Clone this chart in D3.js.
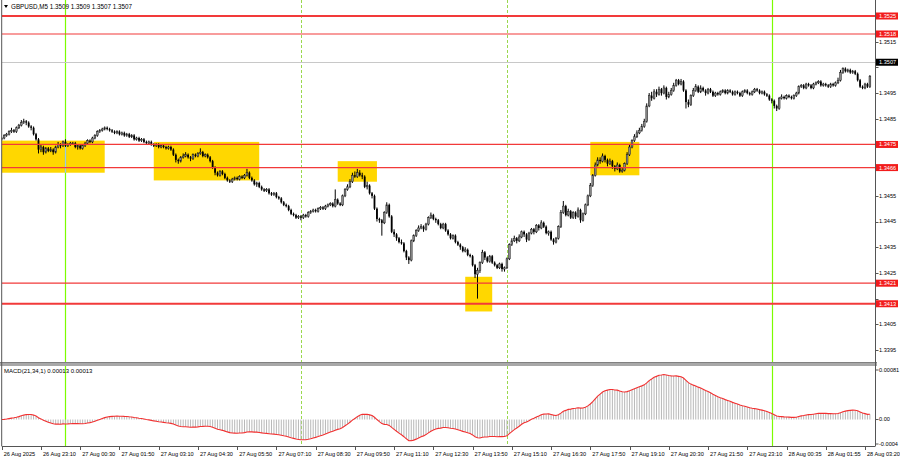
<!DOCTYPE html>
<html><head><meta charset="utf-8">
<script src="https://cdn.jsdelivr.net/npm/d3@7"></script>
<style>html,body{margin:0;padding:0;background:#fff;}svg{display:block;font-family:"Liberation Sans","DejaVu Sans",sans-serif;}</style>
</head><body><svg id="c" width="900" height="460"></svg>
<script>
// ---------- DATA (GBPUSD M5) ----------
const firstOpen = 1.3477;
const closes = [
1.34775,1.34785,1.3479,1.348,1.34805,1.348,1.34815,1.34825,1.34835,1.3484,
1.34835,1.3482,1.34815,1.3479,1.3477,1.3473,1.3474,1.3472,1.34735,1.34725,
1.3473,1.3472,1.3474,1.3475,1.34745,1.3476,1.34745,1.3475,1.34755,1.34755,
1.3474,1.34745,1.34735,1.34745,1.34755,1.34765,1.3476,1.34775,1.34785,1.348,
1.34805,1.3481,1.34815,1.3481,1.34805,1.348,1.34795,1.348,1.3479,1.34795,
1.34785,1.3479,1.3478,1.34785,1.3477,1.34775,1.34765,1.3477,1.3476,1.34755,
1.3476,1.3475,1.34745,1.3475,1.3474,1.34745,1.3474,1.34735,1.3474,1.3473,
1.3471,1.3469,1.34685,1.347,1.34705,1.3471,1.347,1.34695,1.3471,1.34705,
1.34715,1.3472,1.34705,1.3471,1.347,1.34685,1.3466,1.3464,1.3463,1.34645,
1.34635,1.3462,1.3461,1.34605,1.34615,1.3462,1.34615,1.34625,1.3462,1.3463,
1.3464,1.3462,1.3461,1.34595,1.346,1.34585,1.34575,1.3457,1.34575,1.3456,
1.34555,1.3456,1.34545,1.3454,1.34525,1.34515,1.3451,1.34495,1.3448,1.34475,
1.34465,1.3447,1.34465,1.34475,1.3447,1.34485,1.3449,1.34495,1.3449,1.345,
1.34505,1.345,1.3451,1.34515,1.3452,1.3451,1.34535,1.3452,1.34515,1.3455,
1.34575,1.34585,1.34605,1.3463,1.34625,1.3464,1.3463,1.34625,1.34585,1.3459,
1.3456,1.3455,1.345,1.3446,1.34455,1.34445,1.34485,1.34515,1.3447,1.3441,
1.344,1.34385,1.3437,1.34365,1.34335,1.3431,1.343,1.34375,1.34395,1.34415,
1.34425,1.3443,1.3442,1.3444,1.34465,1.34475,1.3446,1.34455,1.3444,1.34425,
1.3444,1.34415,1.344,1.34385,1.34395,1.3437,1.3436,1.3435,1.34335,1.3434,
1.3432,1.34315,1.3428,1.34245,1.3426,1.3429,1.3433,1.3431,1.34295,1.34315,
1.3429,1.3428,1.3427,1.34285,1.34265,1.3427,1.34305,1.3436,1.34375,1.34385,
1.34375,1.3439,1.3441,1.344,1.3438,1.34405,1.3442,1.3441,1.34435,1.34425,
1.34445,1.3443,1.34405,1.3441,1.3438,1.3437,1.34385,1.3443,1.34485,1.3451,
1.34475,1.3449,1.34465,1.34485,1.3447,1.34495,1.34455,1.3448,1.34515,1.3455,
1.3459,1.3463,1.3467,1.3469,1.34685,1.34705,1.3469,1.34675,1.34685,1.34665,
1.34655,1.3467,1.34645,1.3465,1.34675,1.3471,1.3474,1.34765,1.3478,1.34795,
1.34805,1.3482,1.3484,1.349,1.3494,1.3493,1.34955,1.34945,1.34965,1.3495,
1.3497,1.34935,1.34945,1.3496,1.3498,1.35,1.34985,1.34995,1.3496,1.34915,
1.34905,1.3494,1.3496,1.34975,1.34955,1.3497,1.3496,1.3495,1.34965,1.34955,
1.3494,1.3495,1.34945,1.34955,1.3496,1.3495,1.3496,1.34955,1.34945,1.34955,
1.3495,1.3494,1.34955,1.3496,1.3495,1.34945,1.34955,1.34965,1.3496,1.3495,
1.34955,1.34945,1.3494,1.34925,1.3492,1.349,1.3489,1.3493,1.34935,1.3493,
1.3494,1.34935,1.3493,1.3494,1.3495,1.34975,1.3498,1.3497,1.34985,1.3498,
1.3497,1.34985,1.3499,1.34995,1.3498,1.34985,1.3498,1.34975,1.34985,1.3498,
1.3499,1.35,1.3503,1.35045,1.35035,1.3504,1.3503,1.35035,1.35025,1.35,
1.34975,1.3497,1.34985,1.34975,1.35015];
const highs = [
1.3478,1.3479,1.34795,1.34805,1.34815,1.3481,1.3482,1.3483,1.34845,1.3485,
1.34845,1.3484,1.34825,1.3482,1.34795,1.34775,1.3475,1.34745,1.3474,1.3474,
1.3474,1.34735,1.34745,1.3476,1.34755,1.34765,1.3477,1.34755,1.3476,1.3476,
1.3476,1.3475,1.3475,1.3475,1.3476,1.3477,1.3477,1.3478,1.3479,1.34805,
1.3481,1.34815,1.3482,1.3482,1.34815,1.3481,1.34805,1.34805,1.34805,1.348,
1.348,1.34795,1.34795,1.3479,1.3479,1.3478,1.3478,1.34775,1.34775,1.34765,
1.34765,1.34765,1.34755,1.34755,1.34755,1.3475,1.3475,1.34745,1.34745,1.34745,
1.34735,1.34715,1.34695,1.34705,1.34715,1.3472,1.34715,1.34705,1.34715,1.34715,
1.3472,1.34735,1.34725,1.34715,1.34715,1.34705,1.3469,1.34665,1.34645,1.3465,
1.3465,1.3464,1.34625,1.34615,1.3462,1.34625,1.34625,1.3463,1.3463,1.34635,
1.34655,1.34645,1.34625,1.34615,1.34605,1.34605,1.3459,1.3458,1.3458,1.3458,
1.34565,1.34565,1.34565,1.3455,1.34545,1.3453,1.3452,1.34515,1.345,1.34485,
1.3448,1.34475,1.34475,1.3448,1.3448,1.3449,1.34495,1.345,1.345,1.34505,
1.3451,1.3451,1.34515,1.3452,1.34525,1.34525,1.34575,1.3454,1.34525,1.34555,
1.3458,1.34595,1.34615,1.3464,1.34645,1.34655,1.3465,1.3464,1.3463,1.34605,
1.34595,1.34565,1.34555,1.34505,1.34465,1.3446,1.3449,1.34525,1.3452,1.34475,
1.3442,1.34405,1.3439,1.3438,1.3437,1.3434,1.34315,1.3438,1.344,1.3442,
1.34435,1.3444,1.34435,1.34445,1.3447,1.34485,1.3448,1.34465,1.3446,1.34445,
1.34445,1.34445,1.3442,1.34405,1.344,1.344,1.34375,1.34365,1.34355,1.3435,
1.34345,1.34325,1.3432,1.34285,1.3427,1.34295,1.3434,1.34335,1.34315,1.3432,
1.3432,1.34295,1.34285,1.3429,1.3429,1.34275,1.3431,1.34365,1.34385,1.34395,
1.3439,1.344,1.34415,1.34415,1.34405,1.3441,1.34425,1.34425,1.3444,1.3444,
1.34455,1.3445,1.34435,1.34415,1.34415,1.34385,1.3439,1.34435,1.34495,1.3453,
1.34515,1.345,1.34495,1.3449,1.3449,1.34505,1.345,1.34485,1.3452,1.34555,
1.346,1.34635,1.3468,1.347,1.347,1.34715,1.3471,1.34695,1.34695,1.3469,
1.3467,1.3468,1.34675,1.3466,1.3468,1.3472,1.3475,1.3477,1.3479,1.34805,
1.34815,1.3483,1.3485,1.3491,1.3495,1.34955,1.34965,1.34965,1.34975,1.3497,
1.3498,1.34975,1.34955,1.3497,1.3499,1.35005,1.35005,1.35005,1.35,1.34965,
1.34925,1.34945,1.3497,1.34985,1.3498,1.3498,1.34975,1.34965,1.3497,1.3497,
1.3496,1.34955,1.34955,1.3496,1.34965,1.34965,1.34965,1.34965,1.3496,1.3496,
1.3496,1.34955,1.3496,1.34965,1.34965,1.34955,1.3496,1.3497,1.3497,1.34965,
1.3496,1.3496,1.3495,1.34945,1.3493,1.34925,1.34905,1.34935,1.34945,1.3494,
1.34945,1.34945,1.3494,1.34945,1.34955,1.3498,1.34985,1.34985,1.3499,1.3499,
1.34985,1.3499,1.34995,1.35,1.35,1.3499,1.3499,1.34985,1.3499,1.3499,
1.34995,1.3501,1.3504,1.3505,1.3505,1.35045,1.35045,1.3504,1.3504,1.3503,
1.35005,1.3498,1.3499,1.3499,1.3502];
const lows = [
1.34765,1.3477,1.3478,1.34785,1.34795,1.34795,1.34795,1.3481,1.3482,1.3483,
1.34825,1.34815,1.34805,1.34785,1.34765,1.34715,1.3472,1.3471,1.34715,1.3472,
1.3472,1.3471,1.34715,1.34735,1.34735,1.3474,1.3474,1.3474,1.34745,1.3475,
1.34735,1.3473,1.3473,1.3473,1.3474,1.3475,1.34755,1.34755,1.3477,1.3478,
1.34795,1.348,1.34805,1.34805,1.348,1.34795,1.3479,1.3479,1.34785,1.34785,
1.3478,1.3478,1.34775,1.34775,1.34765,1.34765,1.3476,1.3476,1.34755,1.3475,
1.3475,1.34745,1.3474,1.3474,1.34735,1.34735,1.34735,1.3473,1.3473,1.34725,
1.34705,1.3468,1.34675,1.3468,1.34695,1.347,1.34695,1.34685,1.3469,1.347,
1.347,1.3471,1.347,1.347,1.34695,1.3468,1.34655,1.3463,1.34625,1.34625,
1.3463,1.34615,1.34605,1.346,1.346,1.3461,1.3461,1.3461,1.34615,1.34615,
1.34625,1.34615,1.34605,1.3459,1.34585,1.3458,1.3457,1.34565,1.34565,1.34555,
1.3455,1.3455,1.3454,1.34535,1.3452,1.3451,1.34505,1.3449,1.34475,1.3447,
1.3446,1.3446,1.34455,1.3446,1.34465,1.34465,1.3448,1.34485,1.34485,1.34485,
1.34495,1.34495,1.34495,1.34505,1.3451,1.34505,1.34505,1.34515,1.3451,1.3451,
1.34545,1.3457,1.3458,1.346,1.3462,1.3462,1.34625,1.34615,1.3458,1.34575,
1.34555,1.3454,1.34495,1.3445,1.34445,1.34395,1.3444,1.3448,1.34465,1.34405,
1.3439,1.34375,1.34365,1.3436,1.3433,1.343,1.34285,1.34295,1.3437,1.3439,
1.3441,1.3442,1.3441,1.34415,1.34435,1.3446,1.34455,1.34445,1.34435,1.3442,
1.3442,1.3441,1.34395,1.3438,1.3438,1.34365,1.34355,1.3434,1.3433,1.3433,
1.34315,1.3431,1.34275,1.3423,1.3415,1.3425,1.34285,1.343,1.3429,1.3429,
1.34285,1.34275,1.34265,1.34265,1.34255,1.34255,1.34265,1.343,1.34355,1.3437,
1.34365,1.3437,1.34385,1.3439,1.3437,1.34375,1.344,1.344,1.34405,1.34415,
1.3442,1.34425,1.344,1.34395,1.34375,1.3436,1.34365,1.3438,1.34425,1.3448,
1.3447,1.3447,1.3446,1.3446,1.3446,1.34465,1.34445,1.3445,1.34475,1.3451,
1.34545,1.34585,1.34625,1.34665,1.34675,1.3468,1.3468,1.34665,1.3467,1.34655,
1.34645,1.3465,1.3464,1.3464,1.34645,1.3467,1.34705,1.34735,1.3476,1.34775,
1.3479,1.348,1.34815,1.34835,1.34895,1.3492,1.34925,1.34935,1.3494,1.3494,
1.34945,1.34925,1.3493,1.3494,1.34955,1.34975,1.3498,1.3498,1.34955,1.3489,
1.34895,1.349,1.34935,1.34955,1.3495,1.3495,1.34955,1.3494,1.34945,1.3495,
1.34935,1.34935,1.3494,1.3494,1.3495,1.34945,1.34945,1.3495,1.3494,1.3494,
1.34945,1.34935,1.34935,1.3495,1.34945,1.3494,1.3494,1.3495,1.34955,1.34945,
1.34945,1.3494,1.34935,1.3492,1.3491,1.3489,1.3488,1.34885,1.34925,1.34925,
1.34925,1.3493,1.34925,1.34925,1.34935,1.34945,1.3497,1.34965,1.34965,1.34975,
1.34965,1.34965,1.3498,1.34985,1.34975,1.34975,1.34975,1.3497,1.3497,1.34975,
1.34975,1.34985,1.34995,1.35025,1.3503,1.3503,1.35025,1.35025,1.3502,1.34995,
1.3497,1.34965,1.34965,1.3497,1.3497];

const timeLabels = ["26 Aug 2025","26 Aug 23:10","27 Aug 00:30","27 Aug 01:50","27 Aug 03:10","27 Aug 04:30",
 "27 Aug 05:50","27 Aug 07:10","27 Aug 08:30","27 Aug 09:50","27 Aug 11:10","27 Aug 12:30","27 Aug 13:50",
 "27 Aug 15:10","27 Aug 16:30","27 Aug 17:50","27 Aug 19:10","27 Aug 20:30","27 Aug 21:50","27 Aug 23:10",
 "28 Aug 00:35","28 Aug 01:55","28 Aug 03:20"];
const barsPerLabel = 16;
const priceTicks = [1.3525,1.3515,1.3505,1.3495,1.3485,1.3475,1.3465,1.3455,1.3445,1.3435,1.3425,1.3415,1.3405,1.3395];
const levelPrices = [1.3525, 1.3518, 1.3475, 1.3466, 1.3421, 1.3413];
const bidPrice = 1.3507;
const zoneStart = [0, 62, 137, 189, 240];
const zoneEnd = [42, 105, 153, 200, 260];
const zoneTop = [1.34765, 1.3476, 1.34685, 1.34235, 1.3476];
const zoneBottom = [1.3464, 1.3461, 1.34605, 1.341, 1.3463];
const daySeparatorBars = [26, 314];
const sessionBars = [122, 206];
const macdTickValues = [0.00081, 0, -0.0004];
const macdTickLabels = ["0.00081", "0.00", "-0.0004"];
const headerText = "GBPUSD,M5  1.3509 1.3509 1.3507 1.3507";
const macdText = "MACD(21,34,1) 0.00013 0.00013";

// ---------- LAYOUT ----------
const svg = d3.select("#c");
const L = 1.7, R = 875.5, mainTop = 0, mainBot = 362, macdTop = 366, macdBot = 446;
const x = d3.scaleLinear().domain([0, 352]).range([1.7, 865]);
const y = d3.scaleLinear().domain([1.3395, 1.3525]).range([350, 16]);
const my = d3.scaleLinear().domain([-0.0004, 0.00081]).range([444, 370]);

const bars = closes.map((c, i) => ({i, o: i ? closes[i-1] : firstOpen, c, h: highs[i], l: lows[i]}));

// MACD(21,34,1): EMA21 - EMA34 of closes, signal = SMA(1)
const a1 = 2/22, a2 = 2/35;
let e1 = closes[0], e2 = closes[0];
const macd = closes.map((c, i) => { if (i) { e1 += a1*(c-e1); e2 += a2*(c-e2); } return e1 - e2; });

const defs = svg.append("defs");
defs.append("clipPath").attr("id","mc").append("rect")
  .attr("x", L).attr("y", mainTop).attr("width", R-L).attr("height", mainBot-mainTop);
defs.append("clipPath").attr("id","dc").append("rect")
  .attr("x", L).attr("y", macdTop).attr("width", R-L).attr("height", macdBot-macdTop);

const main = svg.append("g").attr("clip-path","url(#mc)");
// zones
main.selectAll("rect.zone").data(zoneStart).join("rect").attr("class","zone")
  .attr("x", (d,k) => x(d)).attr("width", (d,k) => x(zoneEnd[k]) - x(d))
  .attr("y", (d,k) => y(zoneTop[k])).attr("height", (d,k) => y(zoneBottom[k]) - y(zoneTop[k]))
  .attr("fill", "#ffd700");

function vlines(g, top, bot) {
  g.selectAll("line.ses").data(sessionBars).join("line").attr("class","ses")
    .attr("x1", d => Math.round(x(d))+0.5).attr("x2", d => Math.round(x(d))+0.5)
    .attr("y1", top).attr("y2", bot).attr("stroke", "#9ad84e").attr("stroke-width", 1).attr("stroke-dasharray","3,2");
  g.selectAll("line.day").data(daySeparatorBars).join("line").attr("class","day")
    .attr("x1", d => Math.round(x(d))+0.5).attr("x2", d => Math.round(x(d))+0.5)
    .attr("y1", top).attr("y2", bot).attr("stroke", "#7cfc00").attr("stroke-width", 1.2);
}
vlines(main, mainTop, mainBot);
const crossings = [];
daySeparatorBars.forEach(b => zoneStart.forEach((s,k) => { if (b >= s && b <= zoneEnd[k]) crossings.push({b, k}); }));
main.selectAll("line.cross").data(crossings).join("line").attr("class","cross")
  .attr("x1", d => Math.round(x(d.b))+0.5).attr("x2", d => Math.round(x(d.b))+0.5)
  .attr("y1", d => y(zoneTop[d.k])).attr("y2", d => y(zoneBottom[d.k]))
  .attr("stroke", "#9cc8e8").attr("stroke-width", 1.2);

// candles
const cg = main.append("g");
cg.selectAll("line.w").data(bars).join("line").attr("class","w")
  .attr("x1", d => x(d.i)).attr("x2", d => x(d.i)).attr("y1", d => y(d.h)).attr("y2", d => y(d.l))
  .attr("stroke", "#000").attr("stroke-width", 1);
cg.selectAll("rect.b").data(bars).join("rect").attr("class","b")
  .attr("x", d => x(d.i) - 0.9).attr("width", 1.8)
  .attr("y", d => y(Math.max(d.o, d.c))).attr("height", d => Math.max(0.9, Math.abs(y(d.o) - y(d.c))))
  .attr("fill", d => d.c >= d.o ? "#8a8a8a" : "#000")
  .attr("stroke", d => d.c >= d.o ? "#222" : "none").attr("stroke-width", 0.5);

// bid line
main.append("line").attr("x1", L).attr("x2", R).attr("y1", Math.round(y(bidPrice))+0.5).attr("y2", Math.round(y(bidPrice))+0.5)
  .attr("stroke", "#c8c8c8").attr("stroke-width", 1);
// level lines
main.selectAll("line.lvl").data(levelPrices).join("line").attr("class","lvl")
  .attr("x1", L).attr("x2", R).attr("y1", d => y(d)).attr("y2", d => y(d))
  .attr("stroke", "#f23a3a").attr("stroke-width", (d,k) => (k === 0 || k === levelPrices.length-1) ? 2 : 1.2);

// header
svg.append("path").attr("d", "M4,5 L8,5 L6,8 Z").attr("fill", "#000");
svg.append("text").attr("x", 11).attr("y", 9).attr("font-size", 6.3).attr("fill", "#000").text(headerText);

// separator between panes
svg.append("rect").attr("x", 0).attr("y", mainBot).attr("width", 877).attr("height", macdTop-mainBot).attr("fill", "#a8a8a8");
svg.append("line").attr("x1", 0).attr("x2", 877).attr("y1", mainBot+0.5).attr("y2", mainBot+0.5).attr("stroke", "#808080");

// MACD pane
const mg = svg.append("g").attr("clip-path","url(#dc)");
vlines(mg, macdTop, macdBot);
mg.selectAll("line.h").data(macd).join("line").attr("class","h")
  .attr("x1", (d,i) => x(i)).attr("x2", (d,i) => x(i)).attr("y1", my(0)).attr("y2", d => my(d))
  .attr("stroke", "#b8b8b8").attr("stroke-width", 1);
mg.append("path").datum(macd).attr("fill","none").attr("stroke","#f23030").attr("stroke-width",1.1)
  .attr("d", d3.line().x((d,i) => x(i)).y(d => my(d)));
svg.append("text").attr("x", 4).attr("y", 373).attr("font-size", 6).attr("fill", "#000").text(macdText);

// frame
svg.append("line").attr("x1", L).attr("x2", L).attr("y1", 0).attr("y2", macdBot).attr("stroke", "#555").attr("stroke-width", 1);
svg.append("line").attr("x1", R).attr("x2", R).attr("y1", 0).attr("y2", macdBot).attr("stroke", "#555").attr("stroke-width", 1);
svg.append("line").attr("x1", L).attr("x2", R).attr("y1", macdBot+0.5).attr("y2", macdBot+0.5).attr("stroke", "#555").attr("stroke-width", 1);

// price axis (tick labels hidden where a price tag covers them, as in the terminal)
const tagPrices = levelPrices.concat([bidPrice]);
const freeTicks = priceTicks.filter(p => tagPrices.every(t => Math.abs(y(t) - y(p)) > 6));
const pa = svg.append("g").attr("font-size", 5.6).attr("fill", "#000");
pa.selectAll("line").data(priceTicks).join("line")
  .attr("x1", R).attr("x2", R+3).attr("y1", d => Math.round(y(d))+0.5).attr("y2", d => Math.round(y(d))+0.5).attr("stroke", "#555");
pa.selectAll("text").data(freeTicks).join("text")
  .attr("x", 879).attr("y", d => y(d)).attr("dy", "0.35em").text(d => d.toFixed(4));
const tags = levelPrices.map(p => ({p, bg: "#f21c1c"})).concat([{p: bidPrice, bg: "#000"}]);
const tg = svg.append("g").selectAll("g").data(tags).join("g");
tg.append("rect").attr("x", 876).attr("width", 22).attr("y", d => y(d.p) - 3.5).attr("height", 7).attr("fill", d => d.bg);
tg.append("text").attr("x", 879).attr("y", d => y(d.p)).attr("dy", "0.35em").attr("font-size", 5.6).attr("fill", "#fff").text(d => d.p.toFixed(4));

// MACD axis
const ma = svg.append("g").attr("font-size", 5.6);
ma.selectAll("line").data(macdTickValues).join("line")
  .attr("x1", R).attr("x2", R+3).attr("y1", d => my(d)).attr("y2", d => my(d)).attr("stroke", "#555");
ma.selectAll("text").data(macdTickValues).join("text")
  .attr("x", 879).attr("y", d => my(d)).attr("dy", "0.35em").text((d,k) => macdTickLabels[k]);

// time axis
const ta = svg.append("g").attr("font-size", 5.6);
ta.selectAll("line").data(timeLabels).join("line")
  .attr("x1", (d,k) => Math.round(x(k*barsPerLabel))+0.5).attr("x2", (d,k) => Math.round(x(k*barsPerLabel))+0.5)
  .attr("y1", macdBot).attr("y2", macdBot+4).attr("stroke", "#555");
ta.selectAll("text").data(timeLabels).join("text")
  .attr("x", (d,k) => x(k*barsPerLabel) + 2).attr("y", 455.5).text(d => d);
</script></body></html>
